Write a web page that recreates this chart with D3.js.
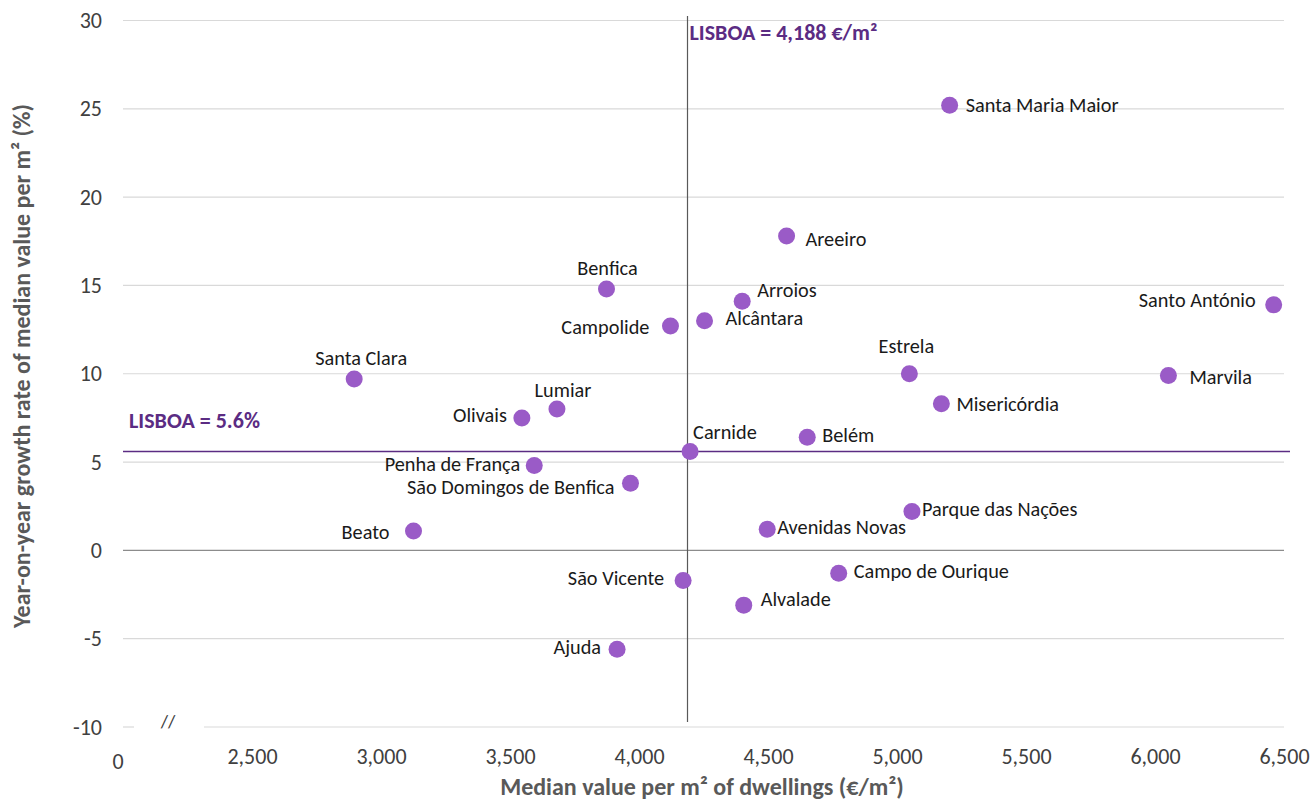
<!DOCTYPE html>
<html>
<head>
<meta charset="utf-8">
<script src="https://cdn.jsdelivr.net/npm/d3@7"></script>
<style>
  html, body { margin: 0; padding: 0; background: #fff; }
  svg text { font-family: Carlito, Calibri, Lato, sans-serif; }
</style>
</head>
<body>
<svg id="chart" width="1312" height="800"></svg>
<script>
// ---- data ----
const parishes = ["Santa Maria Maior","Areeiro","Benfica","Arroios","Santo António","Campolide","Alcântara",
  "Santa Clara","Estrela","Marvila","Misericórdia","Lumiar","Olivais","Belém","Carnide","Penha de França",
  "São Domingos de Benfica","Parque das Nações","Beato","Avenidas Novas","Campo de Ourique","São Vicente",
  "Alvalade","Ajuda"];
const medianValue = [5204, 4572, 3874, 4400, 6460, 4122, 4254,
  2896, 5048, 6052, 5172, 3682, 3546, 4652, 4198, 3594,
  3967, 5058, 3126, 4497, 4774, 4171,
  4406, 3915];
const growthRate = [25.2, 17.8, 14.8, 14.1, 13.9, 12.7, 13.0,
  9.7, 10.0, 9.9, 8.3, 8.0, 7.5, 6.4, 5.6, 4.8,
  3.8, 2.2, 1.1, 1.2, -1.3, -1.7,
  -3.1, -5.6];
const lisboaValue = 4188;
const lisboaGrowth = 5.6;
const xTicks = [2500, 3000, 3500, 4000, 4500, 5000, 5500, 6000, 6500];
const yTicks = [-10, -5, 0, 5, 10, 15, 20, 25, 30];

// ---- label layout (offsets from the dot) ----
const labelLayout = {
  "Santa Maria Maior": [16, 0, "start"],
  "Areeiro": [19, 3, "start"],
  "Benfica": [1, -21, "middle"],
  "Arroios": [15, -11, "start"],
  "Santo António": [-18, -5, "end"],
  "Campolide": [-21, 1, "end"],
  "Alcântara": [21, -2, "start"],
  "Santa Clara": [7, -21, "middle"],
  "Estrela": [-3, -27, "middle"],
  "Marvila": [21, 2, "start"],
  "Misericórdia": [15, 1, "start"],
  "Lumiar": [6, -19, "middle"],
  "Olivais": [-15, -3, "end"],
  "Belém": [15, -2, "start"],
  "Carnide": [3, -19, "start"],
  "Penha de França": [-14, -1, "end"],
  "São Domingos de Benfica": [-16, 4, "end"],
  "Parque das Nações": [10, -2, "start"],
  "Beato": [-24, 1, "end"],
  "Avenidas Novas": [10, -2, "start"],
  "Campo de Ourique": [15, -2, "start"],
  "São Vicente": [-19, -2, "end"],
  "Alvalade": [17, -6, "start"],
  "Ajuda": [-16, -2, "end"]
};

const svg = d3.select("#chart");
const pLeft = 123, pRight = 1284, pTop = 20.5, pBottom = 727;
const x = d3.scaleLinear().domain([2000, 6500]).range([pLeft, pRight]);
const y = d3.scaleLinear().domain([-10, 30]).range([pBottom, pTop]);

const purple = "#5B2C83";
const dotColor = "#9A5BC7";
const tickColor = "#404040";
const FONT = 'Carlito, Calibri, Lato, sans-serif';

// gridlines
const grid = svg.append("g");
yTicks.filter(t => t !== -10).forEach(t => {
  grid.append("line")
    .attr("x1", pLeft).attr("x2", pRight)
    .attr("y1", y(t)).attr("y2", y(t))
    .attr("stroke", t === 0 ? "#8c8c8c" : "#d9d9d9")
    .attr("stroke-width", 1.2);
});
// broken bottom axis
grid.append("line").attr("x1", pLeft).attr("x2", 134).attr("y1", y(-10)).attr("y2", y(-10))
  .attr("stroke", "#d9d9d9").attr("stroke-width", 1.2);
grid.append("line").attr("x1", 204).attr("x2", pRight).attr("y1", y(-10)).attr("y2", y(-10))
  .attr("stroke", "#d9d9d9").attr("stroke-width", 1.2);
svg.append("text").attr("x", 168).attr("y", y(-10) + 1)
  .attr("text-anchor", "middle").attr("font-size", 19).attr("fill", tickColor)
  .text("//");

// y axis tick labels
const yAxis = d3.axisLeft(y).tickValues(yTicks).tickSize(0).tickPadding(0)
  .tickFormat(d => String(d));
const yG = svg.append("g").attr("transform", `translate(${pLeft - 21},0)`).call(yAxis);
yG.select(".domain").remove();
yG.selectAll("text").attr("font-size", 22).attr("fill", tickColor)
  .style("font-family", FONT);

// x axis tick labels
const xAxis = d3.axisBottom(x).tickValues(xTicks).tickSize(0).tickPadding(0)
  .tickFormat(d3.format(","));
const xG = svg.append("g").attr("transform", `translate(0,${748})`).call(xAxis);
xG.select(".domain").remove();
xG.selectAll("text").attr("font-size", 22).attr("fill", tickColor)
  .style("font-family", FONT);
svg.append("text").attr("x", x(2000) - 5).attr("y", 769)
  .attr("text-anchor", "middle").attr("font-size", 22).attr("fill", tickColor).text("0");

// Lisboa reference lines
svg.append("line").attr("x1", x(lisboaValue)).attr("x2", x(lisboaValue))
  .attr("y1", 16).attr("y2", 722).attr("stroke", "#595959").attr("stroke-width", 1.2);
svg.append("line").attr("x1", pLeft).attr("x2", 1290)
  .attr("y1", y(lisboaGrowth)).attr("y2", y(lisboaGrowth))
  .attr("stroke", purple).attr("stroke-width", 1.4);
svg.append("text").attr("x", x(lisboaValue) + 2).attr("y", 40)
  .attr("font-size", 22).attr("font-weight", "bold").attr("fill", purple)
  .text("LISBOA = " + d3.format(",")(lisboaValue) + " €/m²");
svg.append("text").attr("x", 129).attr("y", 428)
  .attr("font-size", 22).attr("font-weight", "bold").attr("fill", purple)
  .text("LISBOA = " + lisboaGrowth + "%");

// points
const data = parishes.map((n, i) => ({ name: n, v: medianValue[i], g: growthRate[i] }));
svg.append("g").selectAll("circle").data(data).join("circle")
  .attr("cx", d => x(d.v)).attr("cy", d => y(d.g)).attr("r", 8.5)
  .attr("fill", dotColor);

// labels
svg.append("g").selectAll("text").data(data).join("text")
  .attr("x", d => x(d.v) + labelLayout[d.name][0])
  .attr("y", d => y(d.g) + labelLayout[d.name][1])
  .attr("dy", "0.33em")
  .attr("text-anchor", d => labelLayout[d.name][2])
  .attr("font-size", 20.3).attr("fill", "#1a1a1a")
  .text(d => d.name);

// axis titles
svg.append("text").attr("x", 702).attr("y", 795)
  .attr("text-anchor", "middle").attr("font-size", 24).attr("font-weight", "bold")
  .attr("fill", "#595959").text("Median value per m² of dwellings (€/m²)");
svg.append("text").attr("transform", "translate(30,366) rotate(-90)")
  .attr("text-anchor", "middle").attr("font-size", 24).attr("font-weight", "bold")
  .attr("fill", "#595959").text("Year-on-year growth rate of median value per m² (%)");
</script>
</body>
</html>
